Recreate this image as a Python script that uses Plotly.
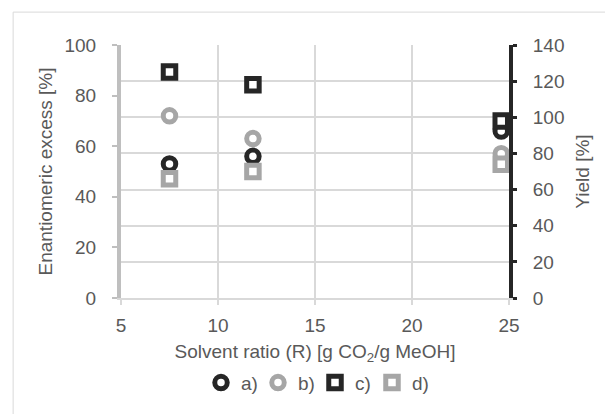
import plotly.graph_objects as go

solvent_ratio = [7.5, 11.8, 24.6]
ee_a = [53, 56, 66]
ee_b = [72, 63, 57]
yield_c = [125, 118, 98]
yield_d = [66, 70, 74]
err_a = [0, 2, 2]
err_b = [0, 2, 2]
err_c = [0, 2, 3]
err_d = [0, 3, 3]

BLACK = "#262626"
GRAY = "#a6a6a6"
TXT = "#595959"
FONT = "Liberation Sans"

fig = go.Figure()

def add(name, y, err, color, symbol, axis):
    fig.add_trace(go.Scatter(
        x=solvent_ratio, y=y, mode="markers", name=name, yaxis=axis,
        marker=dict(symbol=symbol, size=12.5, color="white",
                    line=dict(color=color, width=5)),
        error_y=dict(type="data", array=err, color=BLACK, thickness=1, width=2),
    ))

add("a)", ee_a, err_a, BLACK, "circle", "y")
add("b)", ee_b, err_b, GRAY, "circle", "y")
add("c)", yield_c, err_c, BLACK, "square", "y2")
add("d)", yield_d, err_d, GRAY, "square", "y2")

fig.update_layout(
    width=605, height=414,
    margin=dict(l=121, r=96, t=45, b=116, autoexpand=False),
    paper_bgcolor="white", plot_bgcolor="white",
    font=dict(family=FONT, size=19, color=TXT),
    xaxis=dict(range=[5, 25], tickvals=[5, 10, 15, 20, 25], showgrid=True,
               gridcolor="#d9d9d9", gridwidth=1.5, showline=True, linecolor="#d9d9d9",
               linewidth=2, ticks="outside", tickcolor="#d9d9d9", ticklen=5, tickwidth=1.5,
               ticklabelstandoff=4, zeroline=False,
               tickfont=dict(family=FONT, size=19, color=TXT),
               title=dict(text="Solvent ratio (R) [g CO<sub>2</sub>/g MeOH]", standoff=10,
                          font=dict(family=FONT, size=19, color=TXT))),
    yaxis=dict(range=[0, 100], tickvals=[0, 20, 40, 60, 80, 100], showgrid=False,
               showline=True, linecolor="#bfbfbf", linewidth=4, ticks="outside",
               tickcolor="#bfbfbf", ticklen=5, tickwidth=2, ticklabelstandoff=12,
               zeroline=False, tickfont=dict(family=FONT, size=19, color=TXT),
               title=dict(text="Enantiomeric excess [%]", standoff=8,
                          font=dict(family=FONT, size=19, color=TXT))),
    yaxis2=dict(range=[0, 140], tickvals=[0, 20, 40, 60, 80, 100, 120, 140],
                overlaying="y", side="right", showgrid=True, gridcolor="#d9d9d9",
                gridwidth=1.5, showline=True, linecolor=BLACK, linewidth=4,
                ticks="outside", tickcolor=BLACK, ticklen=4, tickwidth=2.5,
                ticklabelstandoff=12, zeroline=False,
                tickfont=dict(family=FONT, size=19, color=TXT),
                title=dict(text="Yield [%]", standoff=13,
                           font=dict(family=FONT, size=19, color=TXT))),
    legend=dict(orientation="h", x=0.5, xanchor="center", y=-0.335, yanchor="middle",
                font=dict(family=FONT, size=19, color=TXT), itemwidth=30,
                entrywidth=12, tracegroupgap=0, bgcolor="rgba(0,0,0,0)"),
    showlegend=True,
    shapes=[dict(type="rect", xref="paper", yref="paper", x0=-0.278, x1=1.3, y0=-0.6, y1=1.13,
                 line=dict(color="#d9d9d9", width=1))],
)

fig.write_html("out.html", config={"displayModeBar": False},
               post_script="document.body.style.margin='0';")
